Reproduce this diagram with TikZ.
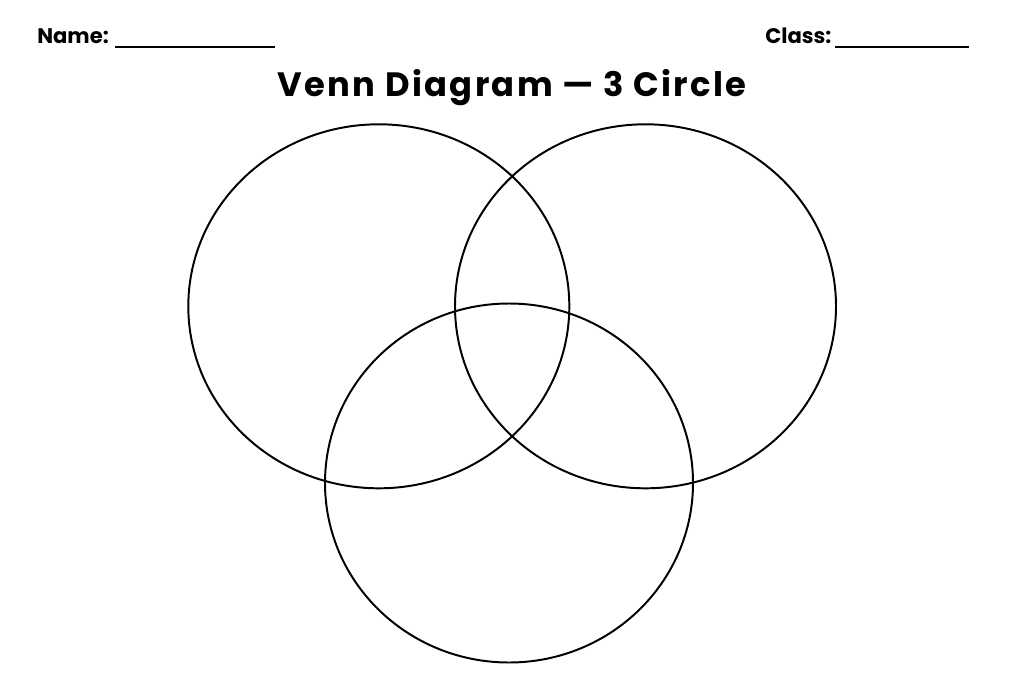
\documentclass[tikz,border=0pt]{standalone}
\usepackage{fontspec}
\setmainfont{Poppins}
\newfontfamily\titlefont[LetterSpace=7]{Poppins}
\usepackage{xcolor}
\usepackage{tikz}

\begin{document}
\begin{tikzpicture}[x=0.025cm, y=-0.025cm, every node/.style={inner sep=0pt, font=\bfseries}]
    \useasboundingbox[fill=white] (0,0) rectangle (1024,683);

    % Header fields
    \node[anchor=base west, font=\bfseries\fontsize{15}{18}\selectfont] (name) at (37,44) {Name:};
    \coordinate (nameend) at (275,47);
    \draw[line width=1.4pt] (115,47) -- (nameend);
    \node[anchor=base west, font=\bfseries\fontsize{15}{18}\selectfont] (class) at (765,44) {Class:};
    \coordinate (classend) at (969,47);
    \draw[line width=1.4pt] (835,47) -- (classend);

    % Title
    \node[anchor=base, font=\titlefont\bfseries\fontsize{24}{28}\selectfont] (title) at (512,97) {Venn Diagram — 3 Circle};

    % Circles
    \draw[line width=1.4pt] (378.8,306.3) ellipse [x radius=190.5, y radius=182];
    \draw[line width=1.4pt] (645.5,306.3) ellipse [x radius=190.5, y radius=182];
    \draw[line width=1.4pt] (509,483) ellipse [x radius=184, y radius=179.5];
\end{tikzpicture}
\end{document}
